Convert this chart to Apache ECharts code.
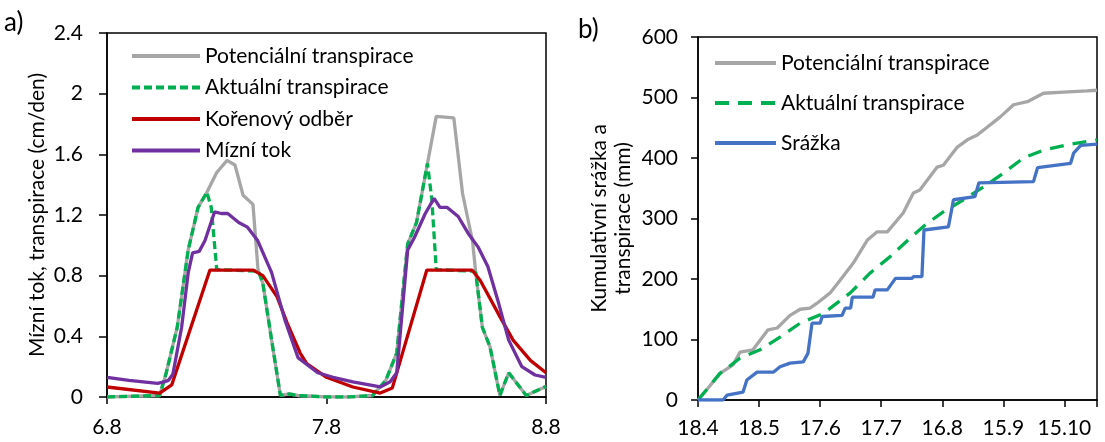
<!DOCTYPE html>
<html>
<head>
<meta charset="utf-8">
<script src="https://cdn.jsdelivr.net/npm/echarts@6/dist/echarts.min.js"></script>
<style>
html,body{margin:0;padding:0;background:#fff;}
#c{width:1105px;height:442px;}
</style>
</head>
<body>
<div id="c"></div>
<script>
// ---------- Panel a) : days since 6.8 ----------
const aXLabels = ['6.8', '7.8', '8.8'];

const potT = [0, 0.12, 0.24, 0.27, 0.32, 0.37, 0.415, 0.455, 0.50, 0.547, 0.583, 0.62, 0.665, 0.688, 0.71, 0.75, 0.79, 0.83, 0.87, 1.0, 1.1, 1.21, 1.27, 1.32, 1.37, 1.41, 1.46, 1.50, 1.58, 1.62, 1.665, 1.68, 1.71, 1.745, 1.79, 1.83, 1.91, 2.0];
const potV = [0, 0.005, 0.01, 0.16, 0.46, 0.97, 1.25, 1.35, 1.48, 1.56, 1.53, 1.33, 1.27, 0.84, 0.75, 0.375, 0.01, 0.02, 0.01, 0, 0, 0.01, 0.11, 0.29, 1.01, 1.15, 1.54, 1.85, 1.84, 1.34, 1.03, 0.82, 0.46, 0.33, 0.01, 0.16, 0.01, 0.07];

const actT = [0, 0.12, 0.24, 0.27, 0.32, 0.37, 0.415, 0.455, 0.475, 0.50, 0.69, 0.71, 0.75, 0.79, 0.83, 0.87, 1.0, 1.1, 1.21, 1.27, 1.32, 1.37, 1.41, 1.46, 1.48, 1.50, 1.665, 1.68, 1.71, 1.745, 1.79, 1.83, 1.91, 2.0];
const actV = [0, 0.005, 0.01, 0.16, 0.46, 0.97, 1.25, 1.35, 1.25, 0.84, 0.83, 0.75, 0.375, 0.01, 0.02, 0.01, 0, 0, 0.01, 0.11, 0.29, 1.01, 1.15, 1.54, 1.3, 0.84, 0.83, 0.82, 0.46, 0.33, 0.01, 0.16, 0.01, 0.07];

const rootT = [0, 0.24, 0.295, 0.469, 0.666, 0.71, 0.775, 0.82, 0.88, 0.91, 1.0, 1.12, 1.245, 1.30, 1.457, 1.663, 1.70, 1.79, 1.85, 1.93, 2.0];
const rootV = [0.066, 0.025, 0.08, 0.837, 0.837, 0.80, 0.66, 0.49, 0.29, 0.22, 0.13, 0.066, 0.026, 0.06, 0.837, 0.837, 0.77, 0.53, 0.375, 0.24, 0.16];

const sapT = [0, 0.1, 0.23, 0.26, 0.28, 0.30, 0.34, 0.37, 0.39, 0.42, 0.446, 0.49, 0.52, 0.55, 0.60, 0.64, 0.687, 0.75, 0.81, 0.87, 0.96, 1.03, 1.12, 1.245, 1.29, 1.32, 1.37, 1.40, 1.45, 1.49, 1.517, 1.55, 1.60, 1.645, 1.69, 1.735, 1.78, 1.83, 1.89, 1.95, 2.0];
const sapV = [0.13, 0.11, 0.09, 0.10, 0.11, 0.15, 0.46, 0.82, 0.95, 0.96, 1.03, 1.22, 1.21, 1.21, 1.15, 1.12, 1.03, 0.82, 0.51, 0.26, 0.16, 0.13, 0.10, 0.066, 0.10, 0.16, 0.97, 1.05, 1.21, 1.31, 1.25, 1.25, 1.19, 1.08, 0.99, 0.86, 0.64, 0.375, 0.20, 0.145, 0.13];

// ---------- Panel b) : days since 18.4 ----------
const bXLabels = ['18.4', '18.5', '17.6', '17.7', '16.8', '15.9', '15.10'];

const cumPotT = [0, 4.3, 10.8, 17.2, 20.6, 27, 34.4, 38.9, 45.2, 50.2, 55, 58.5, 64.9, 69.8, 76.2, 83.1, 88, 93, 100.8, 105.8, 109, 117.5, 120.5, 127.4, 132.3, 137.2, 148.5, 155, 161.8, 169.7, 179.5, 191, 196];
const cumPotV = [0, 17, 44, 58, 79, 83, 116, 119, 140, 150, 152, 160, 177, 198, 226, 264, 278, 278, 309, 342, 347, 385, 388, 418, 430, 438, 468, 488, 493, 507, 509, 511, 512];

const cumActT = [0, 10.8, 20.6, 30.5, 40.3, 50.2, 61.5, 74.8, 84.6, 94.4, 104.3, 112.6, 120.5, 130.4, 140.2, 150, 159.9, 169.7, 183, 196];
const cumActV = [0, 44, 69, 83, 104, 127, 143, 177, 210, 237, 268, 292, 311, 331, 352, 375, 400, 413, 423, 430];

const rainT = [0, 12.3, 14.3, 22.1, 24, 29, 37, 40.3, 45.2, 51.7, 54, 56, 60, 61, 70.8, 72.3, 75, 75.8, 86, 87, 93, 97, 105, 106, 110, 111, 123, 125.5, 136, 138, 164.8, 166.8, 183, 184.5, 188, 196];
const rainV = [0, 0, 8, 13, 33, 46, 46, 55, 61, 63, 77, 127, 127, 138, 140, 152, 152, 170, 170, 182, 182, 201, 201, 204, 204, 281, 286, 331, 336, 359, 361, 384, 391, 408, 421, 423];

const zip = (t, v) => t.map((x, i) => [x, v[i]]);

const FONT = 'Lato';
const FS = 21;
const LW = 3.3;
const GRAY = '#A6A6A6', GREEN = '#00B050', RED = '#C00000', PURPLE = '#7030A0', BLUE = '#4472C4';
const Z = '\u200b';

const chart = echarts.init(document.getElementById('c'), null, {renderer: 'canvas'});

const axisLine = {show: true, onZero: false, lineStyle: {color: '#000', width: 1.5}};
const txt = {color: '#000', fontFamily: FONT, fontSize: FS};
const noSym = {color: 'rgba(0,0,0,0)', borderWidth: 0, borderColor: 'rgba(0,0,0,0)'};

chart.setOption({
  animation: false,
  textStyle: {fontFamily: FONT},
  graphic: [
    {type: 'text', left: 4, top: 10, style: {text: 'a)', font: '26px Lato', fill: '#000'}},
    {type: 'text', left: 578, top: 17, style: {text: 'b)', font: '26px Lato', fill: '#000'}}
  ],
  grid: [
    {left: 107, top: 33, right: 559, bottom: 45, show: true, borderColor: '#000', borderWidth: 1.5, containLabel: false},
    {left: 698, top: 37, right: 8, bottom: 42, show: true, borderColor: '#000', borderWidth: 1.5, containLabel: false}
  ],
  legend: [
    {
      left: 125, top: 40, orient: 'vertical', itemWidth: 68, itemHeight: 12, itemGap: 9.5, itemTextGap: 5,
      textStyle: Object.assign({lineHeight: 22}, txt), itemStyle: noSym, lineStyle: {width: 4},
      data: ['Potenciální transpirace', 'Aktuální transpirace', 'Kořenový odběr', 'Mízní tok']
    },
    {
      left: 708, top: 47, orient: 'vertical', itemWidth: 61, itemHeight: 12, itemGap: 18, itemTextGap: 9,
      textStyle: Object.assign({lineHeight: 22}, txt), itemStyle: noSym, lineStyle: {width: 4},
      formatter: n => n.replace(Z, ''),
      data: ['Potenciální transpirace' + Z, 'Aktuální transpirace' + Z, 'Srážka']
    }
  ],
  xAxis: [
    {
      type: 'value', gridIndex: 0, min: 0, max: 2, interval: 1,
      axisLine: axisLine, splitLine: {show: false},
      axisTick: {show: true, length: 7, lineStyle: {color: '#000', width: 1.5}},
      axisLabel: Object.assign({margin: 20, formatter: v => aXLabels[Math.round(v)] ?? ''}, txt)
    },
    {
      type: 'value', gridIndex: 1, min: 0, max: 196, interval: 30,
      axisLine: axisLine, splitLine: {show: false},
      axisTick: {show: true, length: 7, lineStyle: {color: '#000', width: 1.5}},
      axisLabel: Object.assign({margin: 18, showMaxLabel: true, formatter: v => (v % 30 === 0 ? (bXLabels[v / 30] ?? '') : '')}, txt)
    }
  ],
  yAxis: [
    {
      type: 'value', gridIndex: 0, min: 0, max: 2.4, interval: 0.4,
      axisLine: axisLine, splitLine: {show: false},
      axisTick: {show: true, length: 8, lineStyle: {color: '#000', width: 1.5}},
      axisLabel: Object.assign({margin: 24}, txt),
      name: 'Mízní tok, transpirace (cm/den)', nameLocation: 'middle', nameGap: 59,
      nameTextStyle: {color: '#000', fontFamily: FONT, fontSize: FS}
    },
    {
      type: 'value', gridIndex: 1, min: 0, max: 600, interval: 100,
      axisLine: axisLine, splitLine: {show: false},
      axisTick: {show: true, length: 7, lineStyle: {color: '#000', width: 1.5}},
      axisLabel: Object.assign({margin: 20}, txt),
      name: 'Kumulativní srážka a\ntranspirace (mm)', nameLocation: 'middle', nameGap: 63,
      nameTextStyle: {color: '#000', fontFamily: FONT, fontSize: FS, lineHeight: 24}
    }
  ],
  series: [
    {name: 'Potenciální transpirace', type: 'line', xAxisIndex: 0, yAxisIndex: 0, symbol: 'none', data: zip(potT, potV), lineStyle: {color: GRAY, width: LW}, itemStyle: {color: GRAY}},
    {name: 'Aktuální transpirace', type: 'line', xAxisIndex: 0, yAxisIndex: 0, symbol: 'none', data: zip(actT, actV), lineStyle: {color: GREEN, width: LW, type: [8, 4]}, itemStyle: {color: GREEN}},
    {name: 'Kořenový odběr', type: 'line', xAxisIndex: 0, yAxisIndex: 0, symbol: 'none', data: zip(rootT, rootV), lineStyle: {color: RED, width: LW}, itemStyle: {color: RED}},
    {name: 'Mízní tok', type: 'line', xAxisIndex: 0, yAxisIndex: 0, symbol: 'none', data: zip(sapT, sapV), lineStyle: {color: PURPLE, width: LW}, itemStyle: {color: PURPLE}},
    {name: 'Potenciální transpirace' + Z, type: 'line', xAxisIndex: 1, yAxisIndex: 1, symbol: 'none', data: zip(cumPotT, cumPotV), lineStyle: {color: GRAY, width: LW}, itemStyle: {color: GRAY}},
    {name: 'Aktuální transpirace' + Z, type: 'line', xAxisIndex: 1, yAxisIndex: 1, symbol: 'none', data: zip(cumActT, cumActV), lineStyle: {color: GREEN, width: LW, type: [14, 9]}, itemStyle: {color: GREEN}},
    {name: 'Srážka', type: 'line', xAxisIndex: 1, yAxisIndex: 1, symbol: 'none', data: zip(rainT, rainV), lineStyle: {color: BLUE, width: LW}, itemStyle: {color: BLUE}}
  ]
});
</script>
</body>
</html>
